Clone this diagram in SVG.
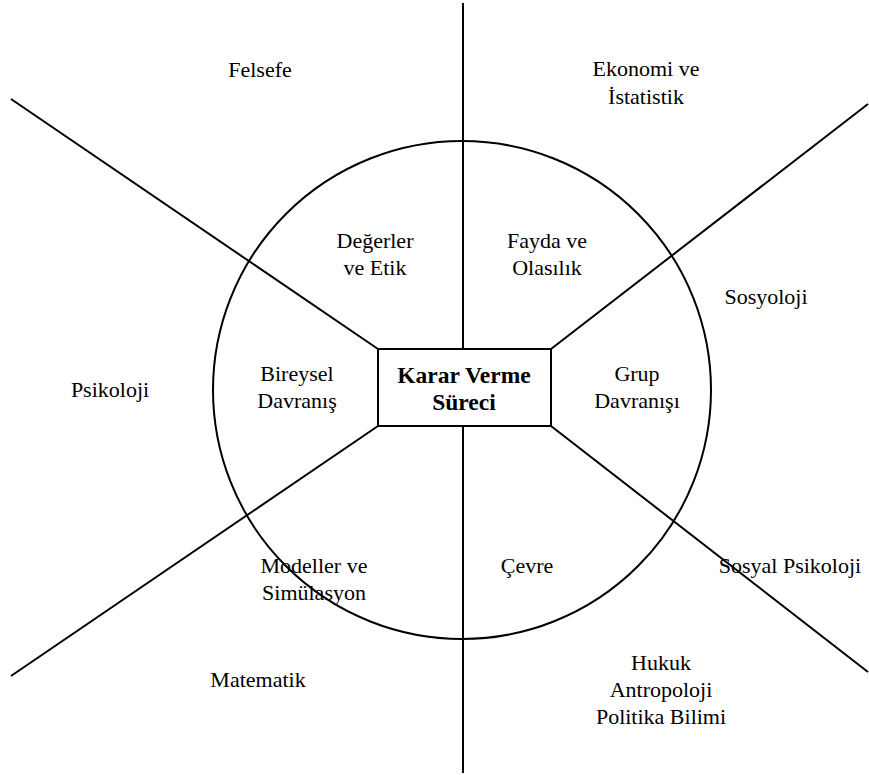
<svg xmlns="http://www.w3.org/2000/svg" width="869" height="775" viewBox="0 0 869 775">
  <style>
    .ln { stroke: #000; stroke-width: 2; fill: none; }
    .t { font-family: "Liberation Serif", "Times New Roman", serif; font-size: 22px; fill: #000; text-anchor: middle; }
    .b { font-weight: bold; font-size: 23.5px; }
  </style>
  <rect width="869" height="775" fill="#fff"/>
  <g id="connectors">
    <line class="ln" x1="463" y1="3" x2="463" y2="349"/>
    <line class="ln" x1="463" y1="426" x2="463" y2="773"/>
    <line class="ln" x1="11" y1="99" x2="378" y2="349"/>
    <line class="ln" x1="868" y1="104" x2="551" y2="349"/>
    <line class="ln" x1="11" y1="676" x2="378" y2="426"/>
    <line class="ln" x1="868" y1="672" x2="551" y2="426"/>
  </g>
  <g id="ring">
    <circle class="ln" cx="462" cy="390" r="249"/>
  </g>
  <g id="center">
    <rect x="378" y="349" width="173" height="77" fill="#fff" stroke="#000" stroke-width="2"/>
    <text class="t b" x="464" y="383">Karar Verme</text>
    <text class="t b" x="464" y="410">Süreci</text>
  </g>
  <g id="inner-values"><text class="t" x="375" y="248">Değerler</text><text class="t" x="375" y="275">ve Etik</text></g>
  <g id="inner-utility"><text class="t" x="547" y="248">Fayda ve</text><text class="t" x="547" y="275">Olasılık</text></g>
  <g id="inner-individual"><text class="t" x="297" y="381">Bireysel</text><text class="t" x="297" y="408">Davranış</text></g>
  <g id="inner-group"><text class="t" x="637" y="381">Grup</text><text class="t" x="637" y="408">Davranışı</text></g>
  <g id="inner-models"><text class="t" x="314" y="573">Modeller ve</text><text class="t" x="314" y="600">Simülasyon</text></g>
  <g id="inner-environment"><text class="t" x="527" y="573">Çevre</text></g>
  <g id="outer-philosophy"><text class="t" x="260" y="77">Felsefe</text></g>
  <g id="outer-economics"><text class="t" x="646" y="76">Ekonomi ve</text><text class="t" x="646" y="104">İstatistik</text></g>
  <g id="outer-sociology"><text class="t" x="766" y="304">Sosyoloji</text></g>
  <g id="outer-psychology"><text class="t" x="110" y="397">Psikoloji</text></g>
  <g id="outer-social-psychology"><text class="t" x="790" y="573">Sosyal Psikoloji</text></g>
  <g id="outer-mathematics"><text class="t" x="258" y="687">Matematik</text></g>
  <g id="outer-law"><text class="t" x="661" y="670">Hukuk</text><text class="t" x="661" y="697">Antropoloji</text><text class="t" x="661" y="724">Politika Bilimi</text></g>
</svg>
